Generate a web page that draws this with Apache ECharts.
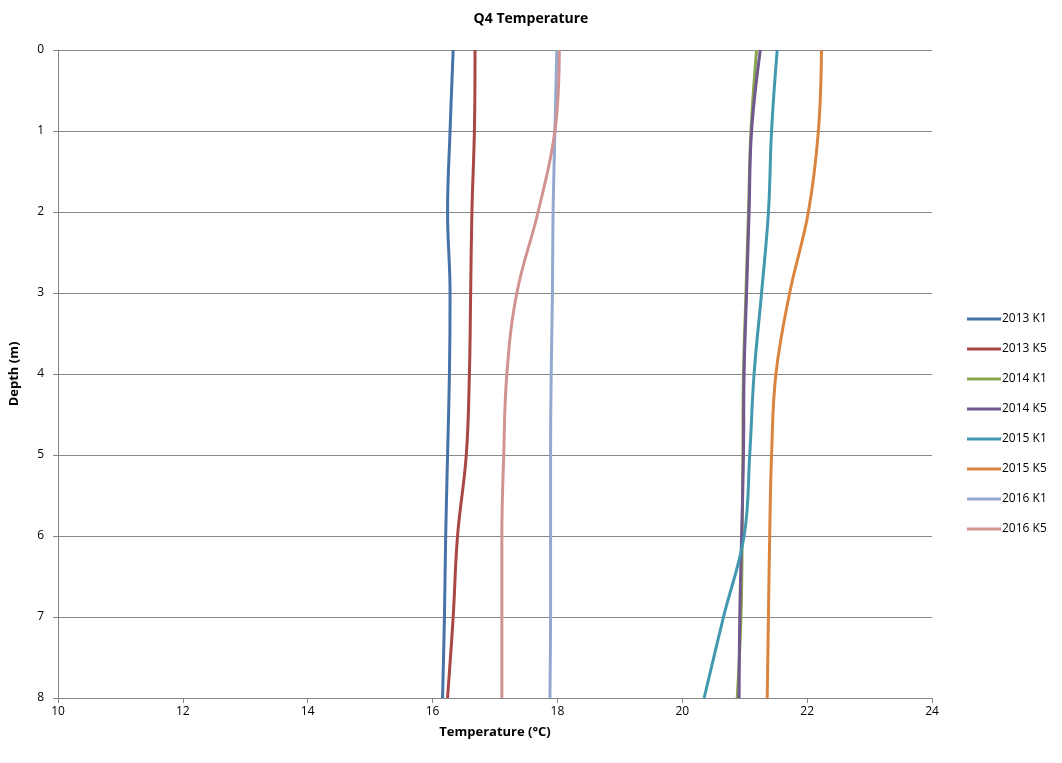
<!DOCTYPE html>
<html>
<head>
<meta charset="utf-8">
<title>Q4 Temperature</title>
<script src="https://cdn.jsdelivr.net/npm/echarts@6/dist/echarts.min.js"></script>
<style>
    html, body { margin: 0; padding: 0; background: #fff; }
    #chart { width: 1062px; height: 763px; }
</style>
</head>
<body>
<div id="chart"></div>
<script>
// depths (m) of each reading
var depths = [0, 1, 2, 3, 4, 5, 6, 7, 8];

// temperature at each depth
var t2013K1 = [16.33, 16.28, 16.24, 16.28, 16.27, 16.24, 16.21, 16.19, 16.16];
var t2013K5 = [16.68, 16.67, 16.63, 16.61, 16.59, 16.54, 16.40, 16.33, 16.24];
var t2014K1 = [21.19, 21.10, 21.06, 21.02, 20.98, 20.97, 20.96, 20.94, 20.88];
var t2014K5 = [21.25, 21.11, 21.07, 21.03, 20.99, 20.98, 20.95, 20.92, 20.91];
var t2015K1 = [21.52, 21.43, 21.38, 21.27, 21.15, 21.08, 20.99, 20.66, 20.35];
var t2015K5 = [22.23, 22.18, 22.02, 21.72, 21.50, 21.43, 21.40, 21.38, 21.36];
var t2016K1 = [17.99, 17.96, 17.93, 17.92, 17.90, 17.89, 17.89, 17.89, 17.88];
var t2016K5 = [18.03, 17.96, 17.69, 17.35, 17.19, 17.14, 17.11, 17.11, 17.11];

var seriesNames = ['2013 K1', '2013 K5', '2014 K1', '2014 K5', '2015 K1', '2015 K5', '2016 K1', '2016 K5'];
var seriesValues = [t2013K1, t2013K5, t2014K1, t2014K5, t2015K1, t2015K5, t2016K1, t2016K5];
var colors = ['#4572A7', '#AA4643', '#89A54E', '#71588F', '#4198AF', '#DB843D', '#93A9CF', '#D19392'];

var xTicks = [10, 12, 14, 16, 18, 20, 22, 24];

var font = '"Open Sans", Lato, sans-serif';

function makeSeries(){
    var list = []
    for (var i = 0; i < seriesNames.length; i++) {
        var pts = []
        for (var j = 0; j < depths.length; j++) {
            pts.push([seriesValues[i][j], depths[j]])
        }
        list.push({
            name: seriesNames[i],
            type: 'line',
            data: pts,
            smooth: 0.4,
            showSymbol: false,
            symbol: 'none',
            lineStyle: { width: 3, color: colors[i] },
            itemStyle: { color: colors[i] }
        })
    }
    return list
}

var myChart = echarts.init(document.getElementById('chart'))
myChart.setOption({
    animation: false,
    color: colors,
    textStyle: { fontFamily: font },
    title: {
        text: 'Q4 Temperature',
        left: 'center',
        top: 7,
        textStyle: { fontSize: 14, fontWeight: 'bold', color: '#000', fontFamily: font }
    },
    legend: {
        orient: 'vertical',
        left: 962,
        top: 305,
        itemWidth: 34,
        itemHeight: 3,
        itemGap: 12,
        icon: 'rect',
        textStyle: { fontSize: 12, color: '#000', padding: [0, 0, 0, -4], lineHeight: 18 },
        data: seriesNames
    },
    grid: {
        left: 58,
        right: 130,
        top: 50,
        bottom: 65
    },
    xAxis: {
        type: 'value',
        min: xTicks[0],
        max: xTicks[xTicks.length - 1],
        interval: 2,
        name: 'Temperature (\u00b0C)',
        nameLocation: 'middle',
        nameGap: 28,
        nameTextStyle: { fontSize: 13, fontWeight: 'bold', color: '#000' },
        axisLine: { show: true, onZero: false, lineStyle: { color: '#868686', width: 1 } },
        axisTick: { show: true, inside: false, length: 5, lineStyle: { color: '#868686' } },
        axisLabel: { color: '#000', fontSize: 12, margin: 8 },
        splitLine: { show: false }
    },
    yAxis: {
        type: 'value',
        inverse: true,
        min: 0,
        max: 8,
        interval: 1,
        name: 'Depth (m)',
        nameLocation: 'middle',
        nameGap: 37,
        nameRotate: 90,
        nameTextStyle: { fontSize: 13, fontWeight: 'bold', color: '#000' },
        axisLine: { show: true, lineStyle: { color: '#868686', width: 1 } },
        axisTick: { show: true, inside: false, length: 5, lineStyle: { color: '#868686' } },
        axisLabel: { color: '#000', fontSize: 12, margin: 14 },
        splitLine: { show: true, lineStyle: { color: '#878787', width: 1 } }
    },
    series: makeSeries()
})
</script>
</body>
</html>
